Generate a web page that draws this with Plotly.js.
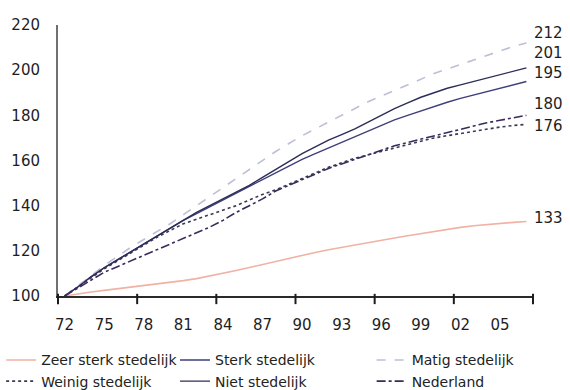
<!DOCTYPE html>
<html>
<head>
<meta charset="utf-8">
<script src="https://cdn.plot.ly/plotly-3.0.1.min.js"></script>
<style>
  html, body { margin: 0; padding: 0; background: #fff; }
  #chart { width: 570px; height: 390px; }
</style>
</head>
<body>
<div id="chart"></div>
<script>
// Index 1972 = 100, by degree of urbanisation
const years = [];
for (let y = 1972; y <= 2007; y++) years.push(y);

const zeerSterk = [100, 101, 101.8, 102.5, 103.2, 103.8, 104.5, 105.2, 106, 106.8,
  107.7, 108.8, 110, 111.3, 112.6, 114, 115.4, 116.8, 118, 119.3,
  120.5, 121.6, 122.7, 123.7, 124.7, 125.7, 126.7, 127.7, 128.7, 129.6,
  130.4, 131.1, 131.7, 132.2, 132.6, 133];

const sterk = [100, 104, 108.5, 112.5, 116, 119.5, 123, 126.5, 130, 133.5,
  136.5, 139.5, 142.5, 145.5, 148.5, 151.5, 154.5, 157.5, 160.5, 163,
  165.5, 168, 170.5, 173, 175.5, 178, 180, 182, 184, 185.8,
  187.5, 189, 190.5, 192, 193.5, 195];

const matig = [100, 104.5, 109, 113.5, 117.5, 121.5, 125, 128.5, 132, 136,
  140, 144, 148, 152, 156, 160, 164, 167.5, 171, 174,
  177, 180, 183, 186, 188.5, 191, 193.5, 196, 198.5, 200.5,
  202.5, 204.5, 206.5, 208.5, 210.5, 212];

const weinig = [100, 104, 108, 112, 115.5, 119, 122.5, 126, 129, 132,
  134, 136, 138, 140, 142.5, 145, 147, 149.5, 152, 154.5,
  157, 159, 161, 162.5, 164, 165.5, 167, 168.5, 170, 171,
  172, 173, 174, 174.8, 175.5, 176];

const niet = [100, 104, 108.5, 112.5, 116, 119.5, 123, 126.5, 130, 133.5,
  137, 140, 143, 146, 149, 152.5, 156, 159.5, 163, 166,
  169, 171.5, 174, 177, 180, 183, 185.5, 188, 190, 192,
  193.5, 195, 196.5, 198, 199.5, 201];

const nederland = [100, 103.5, 107, 110.5, 113, 115.5, 118, 120.5, 123, 125.5,
  128, 130.5, 133.5, 137, 140, 143, 146.5, 149, 151.5, 154,
  156.5, 158.5, 160.5, 162.5, 164.5, 166.5, 168, 169.5, 171, 172.5,
  174, 175.5, 176.7, 177.8, 179, 180];

const seriesNames = ['Zeer sterk stedelijk', 'Sterk stedelijk', 'Matig stedelijk',
  'Weinig stedelijk', 'Niet stedelijk', 'Nederland'];

// x axis span (one category per year), tick labels every third year,
// and the category boundaries that carry tick marks
const xRange = [1971.5, 2007.5];
const labelYears = [1972, 1975, 1978, 1981, 1984, 1987, 1990, 1993, 1996, 1999, 2002, 2005];
const labelText = ['72', '75', '78', '81', '84', '87', '90', '93', '96', '99', '02', '05'];
const tickBounds = [1971.5, 1977.5, 1983.5, 1989.5, 1995.5, 2001.5, 2007.5];

const yTicks = [100, 120, 140, 160, 180, 200, 220];

// end-of-line value labels: vertical nudges in px so they don't collide
const endShift = [3, 8, 10, -2, 15, 11];

const styles = [
  { color: '#f0b2a4', width: 1.6, dash: 'solid' },
  { color: '#3e3e7c', width: 1.4, dash: 'solid' },
  { color: '#bcc0d4', width: 1.6, dash: 'dash' },
  { color: '#3a3a52', width: 1.6, dash: 'dot' },
  { color: '#2c2c58', width: 1.4, dash: 'solid' },
  { color: '#3b2a5c', width: 1.6, dash: 'dashdot' }
];

// three legend columns
const legendOf = ['legend', 'legend2', 'legend3', 'legend', 'legend2', 'legend3'];

const allSeries = [zeerSterk, sterk, matig, weinig, niet, nederland];

const traces = allSeries.map((vals, i) => ({
  type: 'scatter',
  mode: 'lines',
  name: seriesNames[i],
  x: years,
  y: vals,
  legend: legendOf[i],
  line: styles[i],
  hoverinfo: 'skip'
}));

const annotations = allSeries.map((vals, i) => ({
  x: years[years.length - 1],
  y: vals[vals.length - 1],
  xref: 'x', yref: 'y',
  text: String(vals[vals.length - 1]),
  showarrow: false,
  xanchor: 'left',
  yanchor: 'middle',
  xshift: 6,
  yshift: endShift[i],
  font: { family: 'DejaVu Sans', size: 15, color: '#1e1e1e' }
}));

// short tick marks hanging below the x axis at the category boundaries
const toDomain = v => (v - xRange[0]) / (xRange[1] - xRange[0]);
const tickMarks = tickBounds.map(b => ({
  type: 'line',
  xref: 'x domain', yref: 'paper',
  x0: toDomain(b), x1: toDomain(b),
  y0: 0.008, y1: -0.03,
  layer: 'above',
  line: { color: '#1c1c1c', width: 2 }
}));

function legendColumn(xPos) {
  return {
    orientation: 'v',
    xref: 'container', yref: 'container',
    x: xPos, xanchor: 'left',
    y: 0.117, yanchor: 'top',
    font: { family: 'DejaVu Sans', size: 14, color: '#222' },
    bgcolor: 'rgba(0,0,0,0)',
    borderwidth: 0,
    itemclick: false
  };
}

const layout = {
  width: 570,
  height: 390,
  margin: { l: 58, r: 37, t: 25, b: 94, autoexpand: false },
  paper_bgcolor: '#fff',
  plot_bgcolor: '#fff',
  font: { family: 'DejaVu Sans', size: 15, color: '#1e1e1e' },
  showlegend: true,
  legend: legendColumn(0.002),
  legend2: legendColumn(0.307),
  legend3: legendColumn(0.652),
  xaxis: {
    range: xRange,
    tickmode: 'array',
    tickvals: labelYears,
    ticktext: labelText,
    ticks: '',
    ticklabelstandoff: 14,
    showgrid: false,
    zeroline: false,
    showline: true,
    linecolor: '#2a2a2a',
    linewidth: 1.5,
    fixedrange: true
  },
  yaxis: {
    range: [100, 220],
    tickmode: 'array',
    tickvals: yTicks,
    ticks: '',
    ticklabelstandoff: 13,
    showgrid: false,
    zeroline: false,
    showline: true,
    linecolor: '#707070',
    linewidth: 2,
    fixedrange: true
  },
  shapes: tickMarks,
  annotations: annotations
};

Plotly.newPlot('chart', traces, layout, { displayModeBar: false, staticPlot: true });
</script>
</body>
</html>
